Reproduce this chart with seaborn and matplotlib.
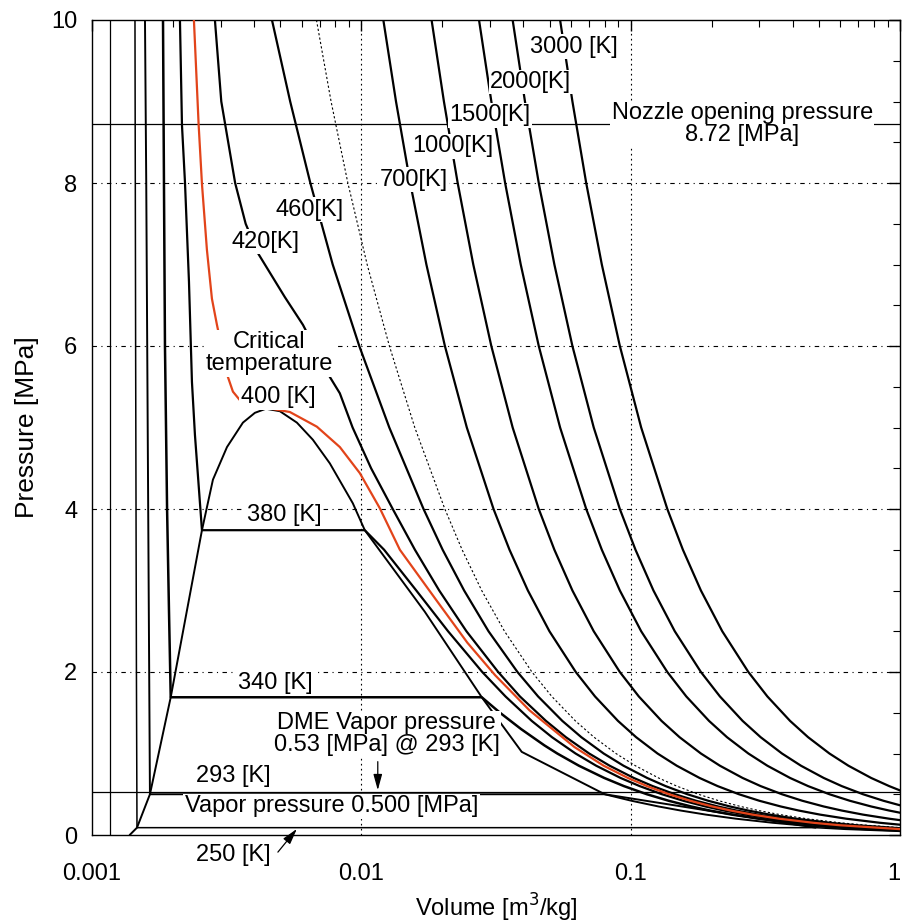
import numpy as np
import pandas as pd
import matplotlib
matplotlib.use("Agg")
import matplotlib.pyplot as plt
from matplotlib.ticker import FixedLocator, LogLocator, MultipleLocator, NullFormatter
import seaborn as sns

sns.set_theme(style="white")
plt.rcParams["font.family"] = ["Liberation Sans", "DejaVu Sans"]

# ---- isotherms of dimethyl ether: specific volume [m3/kg] vs pressure [MPa] ----
v_ref = [0.001166, 0.001166]
p_ref = [0.0, 10.0]

v_250 = [0.001444, 0.001452, 0.001462, 0.001469, 0.486, 0.625, 1.0]
p_250 = [10.0, 6.0, 2.0, 0.09, 0.09, 0.07, 0.0447]

v_293 = [0.001573, 0.001590, 0.001610, 0.001627, 0.001641, 0.0801, 0.1007, 0.1269,
         0.1534, 0.1904, 0.2459, 0.3367, 0.4253, 0.573, 0.7405, 1.0]
p_293 = [10.0, 8.0, 5.0, 2.5, 0.50, 0.50, 0.42, 0.35,
         0.30, 0.25, 0.20, 0.15, 0.12, 0.09, 0.07, 0.052]

v_340 = [0.001835, 0.001850, 0.001866, 0.001900, 0.001931, 0.00196, 0.0280, 0.03273,
         0.03918, 0.04781, 0.05339, 0.06426, 0.07978, 0.09441, 0.1149, 0.1384, 0.1676,
         0.1968, 0.2376, 0.2992, 0.4018, 0.5043, 0.6751, 1.0]
p_340 = [10.0, 8.0, 6.0, 4.0, 2.76, 1.69, 1.69, 1.5,
         1.3, 1.1, 1.0, 0.85, 0.7, 0.6, 0.5, 0.42, 0.35,
         0.3, 0.25, 0.2, 0.15, 0.12, 0.09, 0.0609]

v_380 = [0.002121, 0.002158, 0.002214, 0.002291, 0.00235, 0.002411, 0.00256, 0.0103,
         0.01215, 0.0160, 0.02099, 0.02812, 0.0343, 0.04292, 0.05104, 0.06242, 0.07448,
         0.09171, 0.108, 0.1307, 0.1569, 0.1895, 0.2222, 0.268, 0.3368, 0.4513, 0.5659, 1.0]
p_380 = [10.0, 8.71, 8.01, 6.79, 5.56, 4.91, 3.74, 3.74,
         3.5, 3.0, 2.5, 2.0, 1.7, 1.4, 1.2, 1.0, 0.85,
         0.7, 0.6, 0.5, 0.42, 0.35, 0.3, 0.25, 0.2, 0.15, 0.12, 0.0683]

# critical isotherm
v_400 = [0.00239, 0.002488, 0.00256, 0.002671, 0.002788, 0.00291, 0.003196, 0.003336,
         0.003634, 0.00446, 0.005428, 0.006838, 0.008322, 0.009872, 0.01171, 0.0139,
         0.0190, 0.02475, 0.0314, 0.0421, 0.0618, 0.0794, 0.09767, 0.1149, 0.1389,
         0.1664, 0.2009, 0.2354, 0.2836, 0.3559, 0.4765, 0.5969, 1.0]
p_400 = [10.0, 8.72, 7.99, 7.18, 6.58, 6.26, 5.62, 5.44,
         5.29, 5.24, 5.19, 5.01, 4.76, 4.44, 4.01, 3.50,
         2.88, 2.36, 1.96, 1.53, 1.08, 0.85, 0.7, 0.6, 0.5,
         0.42, 0.35, 0.3, 0.25, 0.2, 0.15, 0.12, 0.0718]

v_420 = [0.00286, 0.00302, 0.00340, 0.00372, 0.00413, 0.0052, 0.00607, 0.00764, 0.00832,
         0.00928, 0.01087, 0.01308, 0.01581, 0.01946, 0.02456, 0.03222, 0.0388, 0.04847,
         0.05749, 0.07012, 0.08357, 0.1027, 0.1207, 0.146, 0.1749, 0.211, 0.2471, 0.2978,
         0.3737, 0.5003, 0.6267, 1.0]
p_420 = [10.0, 9.0, 8.0, 7.5, 7.14, 6.6, 6.26, 5.62, 5.42,
         5.0, 4.5, 4.0, 3.5, 3.0, 2.5, 2.0, 1.7, 1.4,
         1.2, 1.0, 0.85, 0.7, 0.6, 0.5, 0.42, 0.35, 0.3, 0.25,
         0.2, 0.15, 0.12, 0.0755]

v_460 = [0.004658, 0.005443, 0.006466, 0.007829, 0.009825, 0.0127, 0.01702, 0.02004,
         0.02408, 0.02966, 0.03799, 0.04532, 0.05575, 0.0656, 0.07938, 0.09407, 0.1151,
         0.1348, 0.1624, 0.1941, 0.2337, 0.2732, 0.3285, 0.4114, 0.5502, 0.6885, 1.0]
p_460 = [10.0, 9.0, 8.0, 7.0, 6.0, 5.0, 4.0, 3.5,
         3.0, 2.5, 2.0, 1.7, 1.4, 1.2, 1.0, 0.85, 0.7,
         0.6, 0.5, 0.42, 0.35, 0.3, 0.25, 0.2, 0.15, 0.12, 0.083]

v_500 = [0.006814, 0.007721, 0.008912, 0.01051, 0.01271, 0.01579, 0.02042, 0.02367,
         0.02798, 0.03401, 0.0430, 0.05096, 0.06234, 0.0731, 0.08817, 0.1041, 0.1269,
         0.1483, 0.1783, 0.2127, 0.2558, 0.2987, 0.3588, 0.4494, 0.5999, 0.7508, 1.0]
p_500 = [10.0, 9.0, 8.0, 7.0, 6.0, 5.0, 4.0, 3.5,
         3.0, 2.5, 2.0, 1.7, 1.4, 1.2, 1.0, 0.85, 0.7,
         0.6, 0.5, 0.42, 0.35, 0.3, 0.25, 0.2, 0.15, 0.12, 0.0902]

v_700 = [0.01207, 0.01345, 0.01519, 0.01744, 0.02043, 0.02464, 0.03096, 0.03549,
         0.04153, 0.04993, 0.06254, 0.07373, 0.08971, 0.1048, 0.1258, 0.1483, 0.1802,
         0.2103, 0.2524, 0.3005, 0.3607, 0.4208, 0.5050, 0.6313, 0.8417, 1.0]
p_700 = [10.0, 9.0, 8.0, 7.0, 6.0, 5.0, 4.0, 3.5,
         3.0, 2.5, 2.0, 1.7, 1.4, 1.2, 1.0, 0.85, 0.7,
         0.6, 0.5, 0.42, 0.35, 0.3, 0.25, 0.2, 0.15, 0.1263]

v_1000 = [0.01823, 0.02026, 0.02279, 0.02604, 0.03038, 0.03646, 0.04558, 0.05209,
          0.06077, 0.07292, 0.09115, 0.1072, 0.1302, 0.1519, 0.1823, 0.2145, 0.2604,
          0.3038, 0.3646, 0.4340, 0.5209, 0.6077, 0.7292, 0.9115, 1.0]
p_1000 = [10.0, 9.0, 8.0, 7.0, 6.0, 5.0, 4.0, 3.5,
          3.0, 2.5, 2.0, 1.7, 1.4, 1.2, 1.0, 0.85, 0.7,
          0.6, 0.5, 0.42, 0.35, 0.3, 0.25, 0.2, 0.1823]

v_1500 = [0.02735, 0.03039, 0.03419, 0.03907, 0.04558, 0.0547, 0.06838, 0.07814,
          0.09117, 0.1094, 0.1368, 0.1609, 0.1954, 0.2279, 0.2735, 0.3218, 0.3907,
          0.4558, 0.547, 0.6512, 0.7814, 0.9117, 1.0]
p_1500 = [10.0, 9.0, 8.0, 7.0, 6.0, 5.0, 4.0, 3.5,
          3.0, 2.5, 2.0, 1.7, 1.4, 1.2, 1.0, 0.85, 0.7,
          0.6, 0.5, 0.42, 0.35, 0.3, 0.2735]

v_2000 = [0.03646, 0.04051, 0.04558, 0.05209, 0.06077, 0.07292, 0.09115, 0.1042,
          0.1215, 0.1458, 0.1823, 0.2145, 0.2604, 0.3038, 0.3646, 0.4289, 0.5209,
          0.6077, 0.7292, 0.8681, 1.0]
p_2000 = [10.0, 9.0, 8.0, 7.0, 6.0, 5.0, 4.0, 3.5,
          3.0, 2.5, 2.0, 1.7, 1.4, 1.2, 1.0, 0.85, 0.7,
          0.6, 0.5, 0.42, 0.3646]

v_3000 = [0.0547, 0.06078, 0.06838, 0.07814, 0.09117, 0.1094, 0.1368, 0.1563,
          0.1823, 0.2188, 0.2735, 0.3218, 0.3907, 0.4558, 0.547, 0.6435, 0.7814,
          0.9117, 1.0]
p_3000 = [10.0, 9.0, 8.0, 7.0, 6.0, 5.0, 4.0, 3.5,
          3.0, 2.5, 2.0, 1.7, 1.4, 1.2, 1.0, 0.85, 0.7,
          0.6, 0.547]

# saturation dome
v_dome = [0.00138, 0.001469, 0.001641, 0.00196, 0.00256, 0.002812, 0.003171, 0.003634,
          0.004025, 0.004421, 0.004983, 0.005764, 0.006607, 0.007639, 0.009299, 0.0103,
          0.0172, 0.0280, 0.0394, 0.0801, 0.486]
p_dome = [0.0, 0.09, 0.50, 1.69, 3.74, 4.36, 4.76, 5.06,
          5.18, 5.23, 5.20, 5.06, 4.85, 4.56, 4.07, 3.74,
          2.74, 1.69, 1.02, 0.50, 0.09]

p_nozzle = 8.72
p_vap_dme = 0.53

fig = plt.figure(figsize=(9.02, 9.23), dpi=100)
ax = fig.add_axes([92 / 902, 88 / 923, 808 / 902, 815 / 923])


def draw(v, p, color="black", lw=1.5, ls="-", z=2):
    df = pd.DataFrame({"v": v, "p": p})
    sns.lineplot(data=df, x="v", y="p", sort=False, estimator=None, ax=ax,
                 color=color, linewidth=lw, linestyle=ls, zorder=z, legend=False)


draw(v_ref, p_ref, lw=0.9)
draw(v_250, p_250, lw=1.1)
draw(v_293, p_293, lw=1.4)
draw(v_340, p_340, lw=1.8)
draw(v_380, p_380, lw=1.6)
draw(v_dome, p_dome, lw=1.4)
draw(v_420, p_420, lw=1.6)
draw(v_460, p_460, lw=1.6)
draw(v_500, p_500, lw=0.8, ls=(0, (2, 2)))
draw(v_700, p_700, lw=1.6)
draw(v_1000, p_1000, lw=1.6)
draw(v_1500, p_1500, lw=1.6)
draw(v_2000, p_2000, lw=1.6)
draw(v_3000, p_3000, lw=1.6)
draw(v_400, p_400, color="#e2441a", lw=1.6, z=3)

ax.axhline(p_nozzle, color="black", lw=0.9, zorder=2)
ax.axhline(p_vap_dme, color="black", lw=0.9, zorder=2)

# grid
for y in [2, 4, 6, 8]:
    ax.axhline(y, color="black", lw=0.8, ls=(0, (4, 4, 1, 4)), zorder=1)
for x in [0.01, 0.1]:
    ax.axvline(x, color="black", lw=0.8, ls=(0, (1.5, 3)), zorder=1)

ax.set_xscale("log")
ax.set_xlim(1e-3, 1)
ax.set_ylim(0, 10)
ax.xaxis.set_major_locator(FixedLocator([1e-3, 1e-2, 1e-1, 1]))
ax.set_xticklabels(["0.001", "0.01", "0.1", "1"])
ax.get_xticklabels()[-1].set_horizontalalignment("right")
ax.xaxis.set_minor_locator(LogLocator(base=10, subs=np.arange(2, 10), numticks=20))
ax.xaxis.set_minor_formatter(NullFormatter())
ax.yaxis.set_major_locator(MultipleLocator(2))
ax.yaxis.set_minor_locator(MultipleLocator(0.5))
ax.tick_params(which="both", direction="in", top=True, right=True,
               color="black", labelsize=17, labelcolor="black")
ax.tick_params(which="major", length=8, width=1)
ax.tick_params(which="minor", length=5, width=0.8)
ax.tick_params(axis="x", which="major", pad=20)
ax.tick_params(axis="y", which="major", pad=10.5)
for s in ax.spines.values():
    s.set_color("black")
    s.set_linewidth(1.0)

ax.set_xlabel("Volume [m$^3$/kg]", fontsize=17, color="black", labelpad=5)
ax.set_ylabel("Pressure [MPa]", fontsize=19, color="black", labelpad=9)

box = dict(facecolor="white", edgecolor="none", pad=1.0)


def label(v, p, s, **kw):
    ax.text(v, p, s, fontsize=17, ha="center", va="center", color="black",
            bbox=box, zorder=6, linespacing=1.0, **kw)


label(0.0614, 9.67, "3000 [K]")
label(0.04256, 9.24, "2000[K]")
label(0.02997, 8.83, "1500[K]")
label(0.02185, 8.45, "1000[K]")
label(0.01566, 8.04, "700[K]")
label(0.006442, 7.67, "460[K]")
label(0.004421, 7.28, "420[K]")
label(0.00454, 5.91, "Critical\ntemperature")
label(0.00491, 5.37, "400 [K]")
label(0.00516, 3.93, "380 [K]")
label(0.004775, 1.865, "340 [K]")
label(0.01243, 1.24, "DME Vapor pressure\n0.53 [MPa] @ 293 [K]")
label(0.00336, 0.725, "293 [K]")
label(0.00775, 0.35, "Vapor pressure 0.500 [MPa]")
label(0.26, 8.72, "Nozzle opening pressure\n8.72 [MPa]")
ax.text(0.003336, -0.245, "250 [K]", fontsize=17, ha="center", va="center",
        color="black", clip_on=False, zorder=6)

arrow = dict(arrowstyle="-|>,head_length=0.8,head_width=0.22", color="black", lw=0.9,
             shrinkA=0, shrinkB=0)
ax.annotate("", xy=(0.01151, 0.55), xytext=(0.01151, 0.90), arrowprops=arrow,
            zorder=6)
ax.annotate("", xy=(0.005764, 0.075), xytext=(0.0049, -0.21), arrowprops=arrow,
            annotation_clip=False, zorder=6)

fig.savefig("out.png", dpi=100, facecolor="white")
